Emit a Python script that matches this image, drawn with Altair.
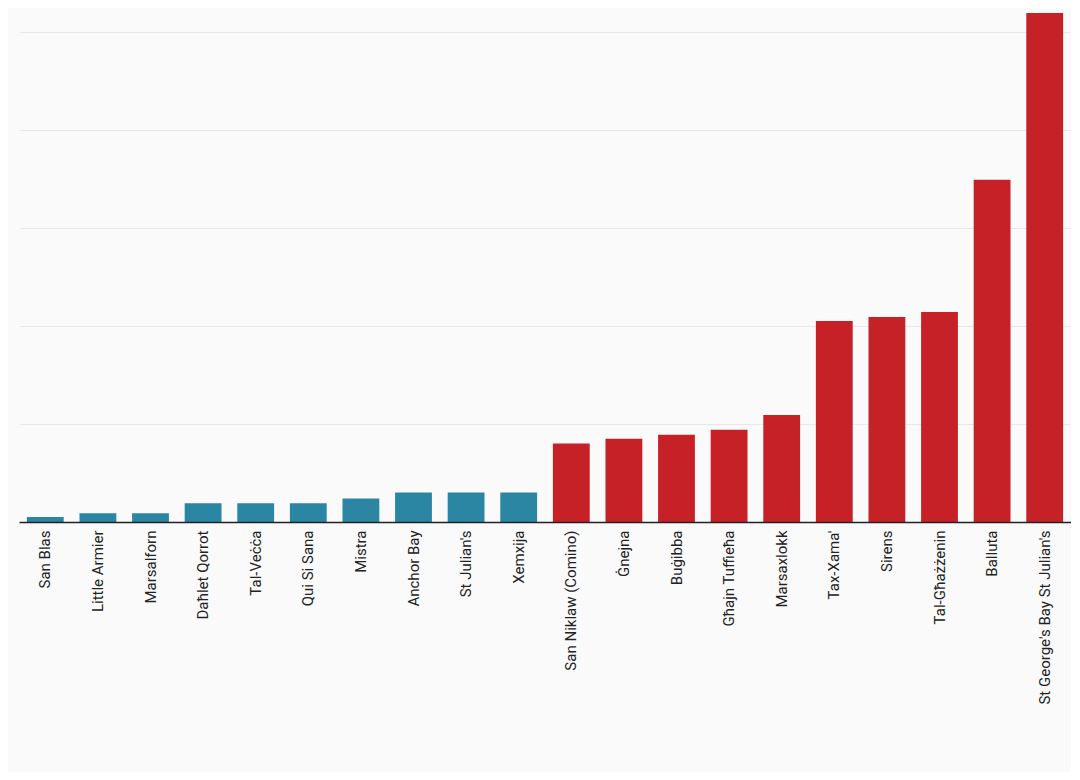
import altair as alt
import pandas as pd

# 海灘名稱與數值（由圖上讀估）
beaches = [
    "San Blas", "Little Armier", "Marsalforn", "Daħlet Qorrot", "Tal-Veċċa",
    "Qui Si Sana", "Mistra", "Anchor Bay", "St Julian's", "Xemxija",
    "San Niklaw (Comino)", "Ġnejna", "Buġibba", "Għajn Tuffieħa", "Marsaxlokk",
    "Tax-Xama'", "Sirens", "Tal-Għażżenin", "Balluta", "St George's Bay St Julian's",
]
values = [5, 9, 9, 19, 19, 19, 24, 30, 30, 30, 80, 85, 89, 94, 109, 205, 209, 214, 349, 519]
groups = ["low"] * 10 + ["high"] * 10

df = pd.DataFrame({"beach": beaches, "value": values, "group": groups})

chart = (
    alt.Chart(df)
    .mark_bar()
    .encode(
        x=alt.X("beach:N", sort=beaches, title=None,
                scale=alt.Scale(paddingInner=0.3, paddingOuter=0.15),
                axis=alt.Axis(labelAngle=-90, labelFontSize=15, labelColor="#222",
                              labelFont="Roboto", domainColor="#222", domainWidth=1.5,
                              ticks=False, labelPadding=8, zindex=1)),
        y=alt.Y("value:Q", title=None,
                scale=alt.Scale(domain=[0, 519], nice=False),
                axis=alt.Axis(values=[100, 200, 300, 400, 500], labels=False,
                              ticks=False, domain=False, gridColor="#e8e8e8")),
        color=alt.Color("group:N", legend=None,
                        scale=alt.Scale(domain=["low", "high"], range=["#2a86a3", "#c62127"])),
    )
    .properties(width=1052, height=509, background="#fafafa",
                padding={"left": 11, "top": 5, "right": 0, "bottom": 250},
                autosize=alt.AutoSizeParams(type="none"))
    .configure_view(stroke=None)
)

chart.save("out.html", embed_options={"renderer": "svg", "actions": False})
